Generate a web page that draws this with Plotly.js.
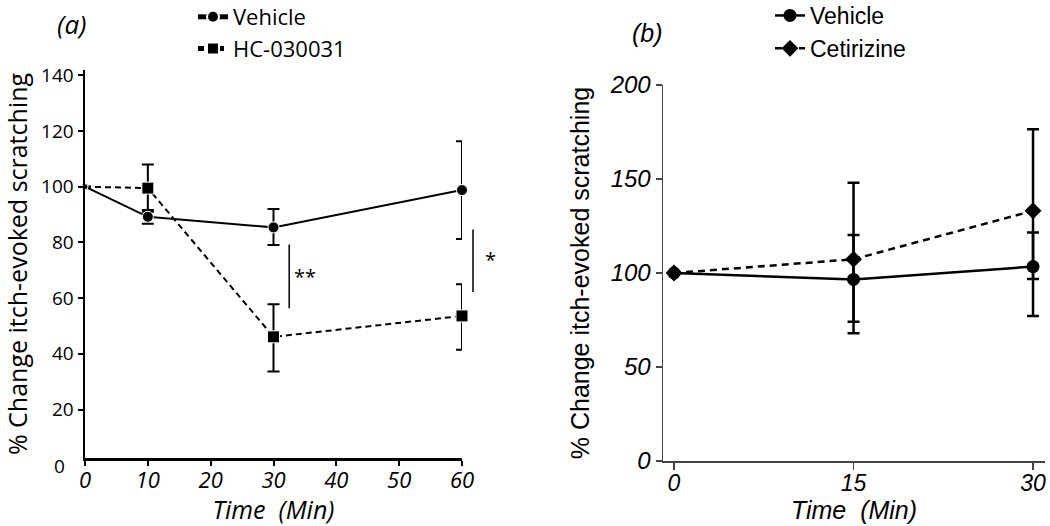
<!DOCTYPE html>
<html>
<head>
<meta charset="utf-8">
<script src="https://cdn.plot.ly/plotly-3.0.1.min.js"></script>
<style>html,body{margin:0;padding:0;background:#fff;}#chart{width:1050px;height:526px;}</style>
</head>
<body>
<div id="chart"></div>
<script>
// ---- Panel (a) data ----
const timeA = [0, 10, 30, 60];
const vehicleA = [100, 89.2, 85.4, 98.8];
const vehicleAErrPlus = [null, 2.4, 6.6, 17.5];
const vehicleAErrMinus = [null, 2.5, 6.3, 17.6];
const hcA = [100, 99.5, 46.1, 53.6];
const hcAErrPlus = [null, 8.5, 11.7, 11.4];
const hcAErrMinus = [null, 8.5, 12.4, 12.1];
const xTicksA = [0, 10, 20, 30, 40, 50, 60];
// significance markers (time, low, high, label)
const sigTime = [32.5, 61.75];
const sigLow = [56.4, 62.2];
const sigHigh = [79.8, 85.2];
const sigLabel = ['**', '*'];
const sigLabelTime = [35, 64.6];
const sigLabelY = [67.9, 73.7];

// ---- Panel (b) data ----
const timeB = [0, 15, 30];
const vehicleB = [100, 96.6, 103.4];
const vehicleBErrPlus = [null, 23.6, 18.2];
const vehicleBErrMinus = [null, 22.5, 26.3];
const cetB = [100, 107.3, 133.1];
const cetBErrPlus = [null, 40.7, 43.3];
const cetBErrMinus = [null, 39.4, 36.3];
const xTicksB = [0, 15, 30];
const yTicksB = [0, 50, 100, 150, 200];

const W = 1050, H = 526;
const FA = 'Open Sans, sans-serif';
const FB = 'Liberation Sans, Arial, sans-serif';

// panel (a) axis geometry
const aLeft = 85, aRight = 462, aRangeMax = 60;
const aExtRight = 500; // invisible extension axis for annotations beyond 60
const aExtMax = aRangeMax * (aExtRight - aLeft) / (aRight - aLeft);

const errStyle = (plus, minus, w, th) => ({type: 'data', symmetric: false, array: plus, arrayminus: minus, color: '#000', thickness: th, width: w});

const traces = [
  {x: timeA, y: hcA, name: 'HC-030031', mode: 'lines+markers', xaxis: 'x', yaxis: 'y', legend: 'legend',
   line: {color: '#000', width: 2, dash: '6px,4px'}, marker: {symbol: 'square', size: [6, 12, 12, 12], color: '#000', opacity: 1},
   error_y: errStyle(hcAErrPlus, hcAErrMinus, 6, 2), cliponaxis: false, legendrank: 2},
  {x: timeA, y: vehicleA, name: 'Vehicle', mode: 'lines+markers', xaxis: 'x', yaxis: 'y', legend: 'legend',
   line: {color: '#000', width: 2}, marker: {symbol: 'circle', size: [6, 11, 11, 11], color: '#000', opacity: 1},
   error_y: errStyle(vehicleAErrPlus, vehicleAErrMinus, 6, 2), cliponaxis: false, legendrank: 1},
  {x: timeB, y: vehicleB, name: 'Vehicle', mode: 'lines+markers', xaxis: 'x2', yaxis: 'y2', legend: 'legend2',
   line: {color: '#000', width: 2.5}, marker: {symbol: 'circle', size: 13, color: '#000', opacity: 1},
   error_y: errStyle(vehicleBErrPlus, vehicleBErrMinus, 6, 2.5), cliponaxis: false, legendrank: 1},
  {x: timeB, y: cetB, name: 'Cetirizine', mode: 'lines+markers', xaxis: 'x2', yaxis: 'y2', legend: 'legend2',
   line: {color: '#000', width: 2.5, dash: '7px,5px'}, marker: {symbol: 'diamond', size: 13, color: '#000', opacity: 1},
   error_y: errStyle(cetBErrPlus, cetBErrMinus, 6, 2.5), cliponaxis: false, legendrank: 2}
];

const annotations = [
  {text: '(a)', xref: 'paper', yref: 'paper', x: 72 / W, y: 1 - 24 / H, showarrow: false, xanchor: 'center', yanchor: 'middle',
   font: {family: FA, size: 26, style: 'italic', color: '#000'}},
  {text: '(b)', xref: 'paper', yref: 'paper', x: 647 / W, y: 1 - 33 / H, showarrow: false, xanchor: 'center', yanchor: 'middle',
   font: {family: FB, size: 25, style: 'italic', color: '#000'}},
  // the '0' label of panel (a) y axis sits just below the axis line
  {text: '0', xref: 'paper', yref: 'paper', x: aLeft / W, y: 1 - 466 / H, xanchor: 'right', yanchor: 'middle', xshift: -18, showarrow: false,
   font: {family: FA, size: 19, color: '#000'}}
];
sigTime.forEach((t, i) => {
  annotations.push({text: '', xref: 'x3', yref: 'y', x: t, y: sigLow[i], axref: 'x3', ayref: 'y', ax: t, ay: sigHigh[i],
    showarrow: true, arrowhead: 0, arrowwidth: 1.5, arrowcolor: '#000', standoff: 0, startstandoff: 0});
  annotations.push({text: sigLabel[i], xref: 'x3', yref: 'y', x: sigLabelTime[i], y: sigLabelY[i], showarrow: false,
    xanchor: 'center', yanchor: 'middle', font: {family: FA, size: 20, color: '#000'}});
});

const layout = {
  width: W, height: H,
  margin: {l: 0, r: 0, t: 0, b: 0, autoexpand: false},
  paper_bgcolor: '#fff', plot_bgcolor: 'rgba(0,0,0,0)',
  showlegend: true,
  xaxis: {domain: [aLeft / W, aRight / W], range: [0, aRangeMax], tickvals: xTicksA, anchor: 'y',
    showline: true, linecolor: '#000', linewidth: 2.5, ticks: 'outside', ticklen: 5, tickwidth: 2, tickcolor: '#000',
    ticklabelstandoff: -4,
    showgrid: false, zeroline: false, tickfont: {family: FA, size: 22, style: 'italic', color: '#000'},
    title: {text: 'Time\u00a0 (Min)', standoff: 7, font: {family: FA, size: 25, style: 'italic', color: '#000'}}},
  xaxis3: {domain: [aLeft / W, aExtRight / W], range: [0, aExtMax], anchor: 'y', visible: false, showgrid: false, zeroline: false},
  yaxis: {domain: [1 - 458 / H, 1 - 70 / H], range: [2.6, 141.9], tick0: 0, dtick: 20, anchor: 'x',
    showline: true, linecolor: '#000', linewidth: 2.5, ticks: 'outside', ticklen: 5, tickwidth: 2, tickcolor: '#000',
    showgrid: false, zeroline: false, tickfont: {family: FA, size: 19, color: '#000'},
    title: {text: '% Change itch-evoked scratching', standoff: 14, font: {family: FA, size: 25, color: '#000'}}},
  xaxis2: {domain: [663 / W, 1045 / W], range: [-0.92, 31], tickvals: xTicksB, anchor: 'y2',
    showline: true, linecolor: '#444', linewidth: 1.5, ticks: 'outside', ticklen: 7, tickwidth: 1.5, tickcolor: '#444',
    ticklabelstandoff: -6,
    showgrid: false, zeroline: false, tickfont: {family: FB, size: 23, style: 'italic', color: '#000'},
    title: {text: 'Time\u00a0 (Min)', standoff: 5, font: {family: FB, size: 25, style: 'italic', color: '#000'}}},
  yaxis2: {domain: [1 - 461 / H, 1 - 85 / H], range: [0, 200], tickvals: yTicksB, anchor: 'x2',
    showline: true, linecolor: '#444', linewidth: 1.5, ticks: 'outside', ticklen: 6, tickwidth: 1.5, tickcolor: '#444',
    showgrid: false, zeroline: false, ticklabelstandoff: 0, tickfont: {family: FB, size: 24, style: 'italic', color: '#000'},
    title: {text: '% Change itch-evoked scratching', standoff: 13, font: {family: FB, size: 25, color: '#000'}}},
  legend: {x: 193 / W, xanchor: 'left', y: 1 + 4 / H, yanchor: 'top', bgcolor: 'rgba(0,0,0,0)', borderwidth: 0,
    font: {family: FA, size: 22, color: '#000'}, tracegroupgap: 0, traceorder: 'normal', itemsizing: 'constant'},
  legend2: {x: 770 / W, xanchor: 'left', y: 1 + 6 / H, yanchor: 'top', bgcolor: 'rgba(0,0,0,0)', borderwidth: 0,
    font: {family: FB, size: 23, color: '#000'}, tracegroupgap: 0, traceorder: 'normal'},
  annotations: annotations
};

Plotly.newPlot('chart', traces, layout, {staticPlot: true, displayModeBar: false});
</script>
</body>
</html>
